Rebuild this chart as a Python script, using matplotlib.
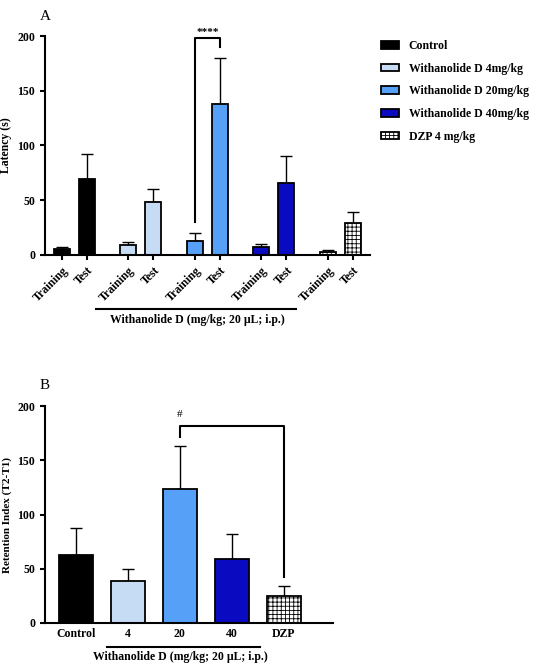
import matplotlib.pyplot as plt
import matplotlib.transforms as mtransforms
import numpy as np

plt.rcParams["font.family"] = ["Liberation Serif", "DejaVu Serif"]
plt.rcParams["font.weight"] = "bold"
plt.rcParams["hatch.linewidth"] = 0.6

groups = ["Control", "Withanolide D 4mg/kg", "Withanolide D 20mg/kg",
          "Withanolide D 40mg/kg", "DZP 4 mg/kg"]
colors = ["#000000", "#c6dcf5", "#56a0f7", "#0a0ac0", "#ffffff"]
hatches = ["", "", "", "", "++++"]

training_mean = [5, 9, 13, 7, 3]
training_err = [2, 3, 7, 3, 1.5]
test_mean = [69, 48, 138, 66, 29]
test_err = [23, 12, 42, 24, 10]

ri_labels = ["Control", "4", "20", "40", "DZP"]
ri_mean = [63, 39, 124, 59, 25]
ri_err = [25, 11, 39, 23, 9]

FS = 8.5


def bar(ax, x, h, e, color, hatch, width, label=None):
    ax.bar(x, h, width, color=color, edgecolor="black", linewidth=1.3,
           hatch=hatch, label=label, zorder=2)
    ax.errorbar(x, h, yerr=[[0], [e]], fmt="none", ecolor="black",
                elinewidth=1, capsize=4, capthick=1, zorder=1)


def style(ax):
    ax.spines["top"].set_visible(False)
    ax.spines["right"].set_visible(False)
    ax.spines["left"].set_linewidth(1.5)
    ax.spines["bottom"].set_linewidth(1.5)
    ax.set_ylim(0, 200)
    ax.set_yticks([0, 50, 100, 150, 200])
    ax.tick_params(width=1.5, labelsize=FS)
    for t in ax.get_yticklabels():
        t.set_fontweight("bold")


fig = plt.figure(figsize=(5.4, 6.67), dpi=100)

# panel A
ax1 = fig.add_axes([0.083, 0.618, 0.602, 0.328])
gap = 2.66
train_x = np.arange(5) * gap
test_x = train_x + 1
for i in range(5):
    bar(ax1, train_x[i], training_mean[i], training_err[i], colors[i], hatches[i], 0.64, groups[i])
    bar(ax1, test_x[i], test_mean[i], test_err[i], colors[i], hatches[i], 0.64)
style(ax1)
ax1.set_xlim(-0.68, test_x[-1] + 0.68)
ticks = np.sort(np.concatenate([train_x, test_x]))
ax1.set_xticks(ticks)
ax1.set_xticklabels(["Training", "Test"] * 5, rotation=45, ha="right",
                    rotation_mode="anchor", fontsize=FS, fontweight="bold")
ax1.set_ylabel("Latency (s)", fontsize=FS, fontweight="bold")
ax1.plot([train_x[2], train_x[2], test_x[2], test_x[2]], [30, 198, 198, 190],
         color="black", lw=1.5, clip_on=False)
ax1.text((train_x[2] + test_x[2]) / 2, 199, "****", ha="center", va="bottom", fontsize=8)
tr = mtransforms.blended_transform_factory(ax1.transData, ax1.transAxes)
ax1.plot([train_x[1] - 1.3, test_x[3] + 0.4], [-0.25, -0.25], color="black",
         lw=1.5, transform=tr, clip_on=False)
ax1.text((train_x[1] + test_x[3]) / 2 - 0.4, -0.27, "Withanolide D (mg/kg; 20 µL; i.p.)",
         transform=tr, ha="center", va="top", fontsize=FS, fontweight="bold")
leg = ax1.legend(loc="upper left", bbox_to_anchor=(1.0, 1.03), frameon=False,
                 fontsize=FS, handlelength=1.6, handleheight=0.6, labelspacing=0.9)
for t in leg.get_texts():
    t.set_fontweight("bold")
fig.text(0.074, 0.985, "A", fontsize=11, va="top", fontweight="normal")

# panel B
ax2 = fig.add_axes([0.083, 0.066, 0.534, 0.325])
bx = np.arange(5)
for i in range(5):
    bar(ax2, bx[i], ri_mean[i], ri_err[i], colors[i], hatches[i], 0.65)
style(ax2)
ax2.set_xlim(-0.6, 4.95)
ax2.set_xticks(bx)
ax2.set_xticklabels(ri_labels, fontsize=FS, fontweight="bold")
ax2.tick_params(axis="x", length=0)
ax2.set_ylabel("Retention Index (T2-T1)", fontsize=8, fontweight="bold")
ax2.plot([2, 2, 4, 4], [172, 182, 182, 42], color="black", lw=1.5)
ax2.text(2, 188, "#", ha="center", va="bottom", fontsize=8, fontweight="normal")
tr2 = mtransforms.blended_transform_factory(ax2.transData, ax2.transAxes)
ax2.plot([0.6, 3.55], [-0.11, -0.11], color="black", lw=1.5, transform=tr2, clip_on=False)
ax2.text(2, -0.13, "Withanolide D (mg/kg; 20 µL; i.p.)", transform=tr2,
         ha="center", va="top", fontsize=FS, fontweight="bold")
fig.text(0.074, 0.432, "B", fontsize=11, va="top", fontweight="normal")

fig.savefig("out.png", dpi=100)
